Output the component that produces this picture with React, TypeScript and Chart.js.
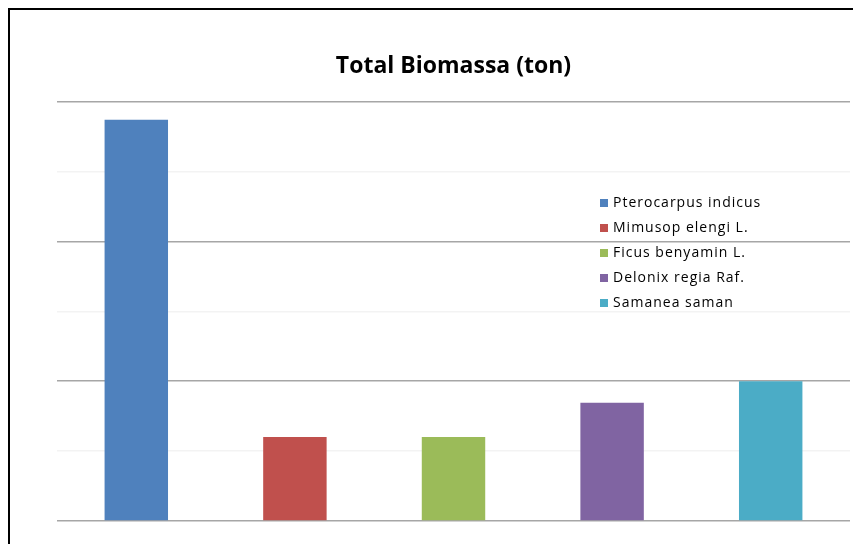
import React, { useEffect, useRef } from "react";
import { Chart, registerables } from "chart.js";

Chart.register(...registerables);

const categories = [
  "Pterocarpus indicus",
  "Mimusop elengi L.",
  "Ficus benyamin L.",
  "Delonix regia Raf.",
  "Samanea saman",
];
const biomassValues = [2.87, 0.6, 0.6, 0.845, 1.0];
const barColors = ["#4F81BD", "#C0504D", "#9BBB59", "#8064A2", "#4BACC6"];
const titleText = "Total Biomassa (ton)";

const innerLegend = {
  id: "innerLegend",
  afterDraw(chart: any) {
    const ctx = chart.ctx;
    const labels = chart.data.labels as string[];
    const colors = chart.data.datasets[0].backgroundColor as string[];
    const x0 = 590;
    const y0 = 193;
    const step = 25;
    ctx.save();
    ctx.font = "14px 'Open Sans'";
    try {
      (ctx as any).letterSpacing = "1px";
    } catch (e) {}
    ctx.textBaseline = "middle";
    ctx.textAlign = "left";
    labels.forEach((lab, i) => {
      const y = y0 + i * step;
      ctx.fillStyle = colors[i];
      ctx.fillRect(x0, y - 4, 8, 8);
      ctx.fillStyle = "#000";
      ctx.fillText(lab, x0 + 13, y);
    });
    ctx.restore();
  },
};

export default function App() {
  const ref = useRef<HTMLCanvasElement | null>(null);
  useEffect(() => {
    if (!ref.current) return;
    const chart = new Chart(ref.current, {
      type: "bar",
      data: {
        labels: categories,
        datasets: [
          {
            label: titleText,
            data: biomassValues,
            backgroundColor: barColors,
            borderWidth: 0,
            categoryPercentage: 1,
            barPercentage: 0.4,
          },
        ],
      },
      options: {
        animation: false,
        responsive: true,
        maintainAspectRatio: false,
        layout: { padding: { left: 47, right: 11, top: 0, bottom: 23 } },
        plugins: {
          legend: { display: false },
          tooltip: { enabled: false },
          title: {
            display: true,
            text: titleText,
            color: "#000",
            font: { family: "'Open Sans'", size: 23, weight: "bold", lineHeight: 1.2 },
            padding: { top: 43, bottom: 21 },
          },
        },
        scales: {
          x: {
            display: false,
          },
          y: {
            min: 0,
            max: 3,
            ticks: { display: false, stepSize: 0.5 },
            border: { display: false },
            grid: {
              drawTicks: false,
              lineWidth: 1.5,
              color: (c: any) =>
                c.tick && Math.abs(c.tick.value % 1) < 1e-6 ? "#A6A6A6" : "#F3F3F3",
            },
          },
        },
      },
      plugins: [innerLegend],
    });
    return () => chart.destroy();
  }, []);
  return (
    <div
      style={{
        width: 851,
        height: 534,
        borderLeft: "2px solid #000",
        borderTop: "2px solid #000",
        background: "#fff",
        position: "relative",
      }}
    >
      <canvas ref={ref} />
    </div>
  );
}
